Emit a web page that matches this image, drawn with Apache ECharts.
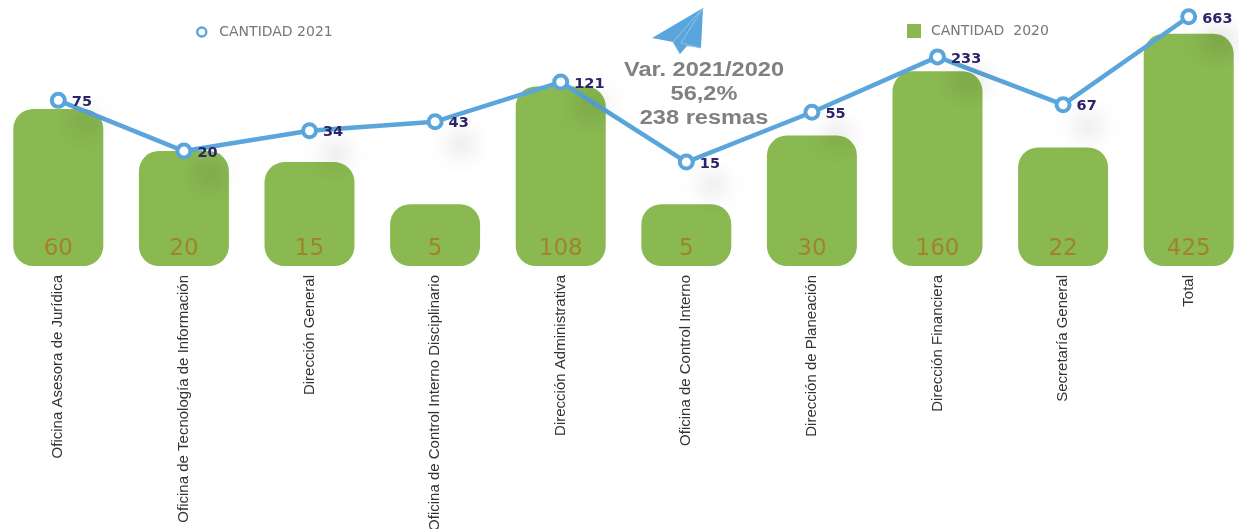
<!DOCTYPE html>
<html>
<head>
<meta charset="utf-8">
<style>html,body{margin:0;padding:0;background:#fff}#c{width:1239px;height:529px}</style>
<script src="https://cdn.jsdelivr.net/npm/echarts@6/dist/echarts.min.js"></script>
</head>
<body>
<div id="c"></div>
<script>
const categories = ["Oficina Asesora de Jurídica","Oficina de Tecnología de Información","Dirección General","Oficina de Control Interno Disciplinario","Dirección Administrativa","Oficina de Control Interno","Dirección de Planeación","Dirección Financiera","Secretaría General","Total"];
const cantidad2020 = [60,20,15,5,108,5,30,160,22,425];
const cantidad2021 = [75,20,34,43,121,15,55,233,67,663];
const noteLines = ["Var. 2021/2020","56,2%","238 resmas"];
const BLUE = "#5aa5dc", GREEN = "#8ab951";
const chart = echarts.init(document.getElementById("c"));
chart.setOption({
  animation:false,
  backgroundColor:"#fff",
  grid:{left:-4.5,top:1,width:1256,height:265,containLabel:false,outerBoundsMode:"none"},
  legend:[
    {data:["CANTIDAD 2021"],left:191,top:20,itemWidth:13,itemHeight:9,itemGap:10,icon:"circle",symbolKeepAspect:false,
     itemStyle:{color:"#fff",borderColor:BLUE,borderWidth:2.5},
     textStyle:{fontFamily:"DejaVu Sans",fontSize:14,color:"#777",padding:[0,0,0,6]}},
    {data:["CANTIDAD  2020"],left:902,top:19,itemWidth:14,itemHeight:14,itemGap:10,icon:"rect",
     textStyle:{fontFamily:"DejaVu Sans",fontSize:14,color:"#777",padding:[0,0,0,5]}}
  ],
  xAxis:{type:"category",data:categories,axisLine:{show:false},axisTick:{show:false},
    axisLabel:{interval:0,rotate:90,margin:9,hideOverlap:false,fontFamily:"Liberation Sans",fontSize:15,color:"#333"}},
  yAxis:{type:"log",logBase:10,min:1,max:1000,axisLine:{show:false},axisTick:{show:false},axisLabel:{show:false},splitLine:{show:false}},
  series:[
    {name:"CANTIDAD  2020",type:"bar",data:cantidad2020,barWidth:90,z:1,
     itemStyle:{color:GREEN,borderRadius:20},
     label:{show:true,position:"insideBottom",distance:5,fontFamily:"DejaVu Sans",fontSize:23,color:"#a08428"}},
    {name:"CANTIDAD 2021",type:"line",data:cantidad2021,z:3,symbol:"circle",symbolSize:13,showSymbol:true,
     lineStyle:{color:BLUE,width:4.5},
     itemStyle:{color:"#fff",borderColor:BLUE,borderWidth:4},
     label:{show:true,position:"right",distance:5,offset:[0,2],fontFamily:"DejaVu Sans",fontWeight:"bold",fontSize:14.5,color:"#2b2467",
       textShadowColor:"rgba(0,0,0,0.5)",textShadowBlur:22,textShadowOffsetX:2,textShadowOffsetY:22}}
  ],
  graphic:[
    {type:"polygon",z:10,shape:{points:[[703,8],[652,38],[673,42],[680,54],[687,46],[701,48]]},style:{fill:BLUE}},
    {type:"polyline",z:11,shape:{points:[[703,8],[673,42],[680,54]]},style:{stroke:"#8fc2e8",lineWidth:1,fill:null}},
    {type:"polyline",z:11,shape:{points:[[703,8],[681,43],[701,48]]},style:{stroke:"#8fc2e8",lineWidth:1,fill:null}},
    ...noteLines.map((t,i)=>({type:"text",z:10,x:704,y:70+24*i,scaleX:1.18,style:{text:t,fill:"#808080",align:"center",verticalAlign:"middle",fontFamily:"Liberation Sans",fontWeight:"bold",fontSize:20}}))
  ]
});
</script>
</body>
</html>
